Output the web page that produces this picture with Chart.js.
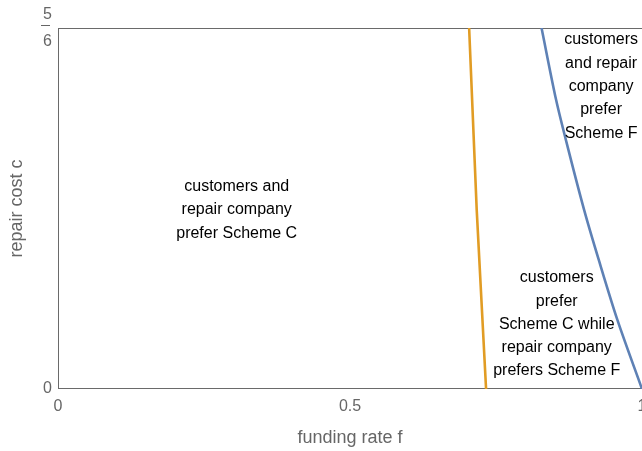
<!DOCTYPE html>
<html>
<head>
<meta charset="utf-8">
<script src="https://cdn.jsdelivr.net/npm/chart.js@4/dist/chart.umd.min.js"></script>
<style>
  html, body { margin: 0; padding: 0; background: #fff; }
  #wrap { width: 642px; height: 451px; }
</style>
</head>
<body>
<div id="wrap"><canvas id="c"></canvas></div>
<script>
// boundary where the repair company switches (orange)
const orangeF = [0.704, 0.717, 0.733];
const orangeC = [0.8333, 0.413, 0];
// boundary where customers switch (blue)
const blueF = [0.828, 0.853, 0.874, 0.901, 0.926, 0.958, 1.0];
const blueC = [0.8333, 0.667, 0.552, 0.413, 0.298, 0.159, 0];

const xTicks = [0, 0.5, 1];
const yTicks = [0, 5 / 6];

const regionText = [
  ['customers and', 'repair company', 'prefer Scheme C'],
  ['customers', 'and repair', 'company', 'prefer', 'Scheme F'],
  ['customers', 'prefer', 'Scheme C while', 'repair company', 'prefers Scheme F']
];
// label centres, in data units
const regionAt = [[0.306, 0.413], [0.930, 0.698], [0.854, 0.149]];

const pts = (xs, ys) => xs.map((x, i) => ({ x, y: ys[i] }));
const GRAY = '#666';
const FONT = 'Arial, "Liberation Sans", sans-serif';

// frame, fraction bar and region labels
const extras = {
  id: 'extras',
  beforeDatasetsDraw(chart) {
    const { ctx, chartArea: a } = chart;
    ctx.save();
    ctx.strokeStyle = '#6a6a6a';
    ctx.lineWidth = 1;
    ctx.strokeRect(a.left + 0.5, a.top + 0.5, a.right - a.left, a.bottom - a.top - 1);
    // bar of the 5/6 tick label
    const yTop = chart.scales.y.getPixelForValue(5 / 6);
    ctx.strokeStyle = GRAY;
    ctx.beginPath();
    ctx.moveTo(41, yTop - 2.5);
    ctx.lineTo(50, yTop - 2.5);
    ctx.stroke();
    ctx.restore();
  },
  afterDatasetsDraw(chart) {
    const { ctx, scales: { x, y } } = chart;
    ctx.save();
    ctx.fillStyle = '#000';
    ctx.font = '16px ' + FONT;
    ctx.textAlign = 'center';
    ctx.textBaseline = 'middle';
    const lh = 23.3;
    regionText.forEach((lines, i) => {
      const cx = x.getPixelForValue(regionAt[i][0]);
      const cy = y.getPixelForValue(regionAt[i][1]);
      lines.forEach((t, j) => {
        ctx.fillText(t, cx, cy + (j - (lines.length - 1) / 2) * lh);
      });
    });
    ctx.restore();
  }
};

new Chart(document.getElementById('c'), {
  type: 'scatter',
  data: {
    datasets: [
      {
        data: pts(orangeF, orangeC), showLine: true,
        borderColor: '#E19C24', borderWidth: 2.6, pointRadius: 0, tension: 0
      },
      {
        data: pts(blueF, blueC), showLine: true,
        borderColor: '#5E81B5', borderWidth: 2.6, pointRadius: 0, tension: 0.3
      }
    ]
  },
  options: {
    responsive: true,
    maintainAspectRatio: false,
    animation: false,
    layout: { padding: { top: 28, right: 0, left: 0, bottom: 0 } },
    plugins: { legend: { display: false }, tooltip: { enabled: false } },
    scales: {
      x: {
        type: 'linear', min: 0, max: 1,
        grid: { display: false, drawTicks: false }, border: { display: false },
        afterBuildTicks: s => { s.ticks = xTicks.map(v => ({ value: v })); },
        afterFit: s => { s.height = 62; s.paddingLeft = 0; s.paddingRight = 0; },
        ticks: {
          autoSkip: false, maxRotation: 0, padding: 8, color: GRAY,
          font: { family: FONT, size: 16 },
          callback: v => String(v)
        },
        title: {
          display: true, text: 'funding rate f', color: GRAY,
          font: { family: FONT, size: 18 }, padding: { top: 0, bottom: 2 }
        }
      },
      y: {
        type: 'linear', min: 0, max: 5 / 6,
        grid: { display: false, drawTicks: false }, border: { display: false },
        afterBuildTicks: s => { s.ticks = yTicks.map(v => ({ value: v })); },
        afterFit: s => { s.width = 58; s.paddingTop = 0; s.paddingBottom = 0; },
        ticks: {
          autoSkip: false, padding: 6, color: GRAY,
          font: { family: FONT, size: 16, lineHeight: 1.7 },
          callback: v => v === 0 ? '0' : ['5', '6']
        },
        title: {
          display: true, text: 'repair cost c', color: GRAY,
          font: { family: FONT, size: 18 }, padding: { top: 6, bottom: 0 }
        }
      }
    }
  },
  plugins: [extras]
});
</script>
</body>
</html>
